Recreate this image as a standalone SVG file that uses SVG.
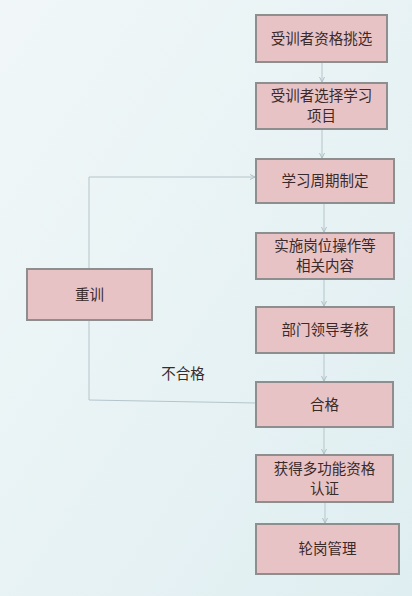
<svg xmlns="http://www.w3.org/2000/svg" width="412" height="596" viewBox="0 0 412 596">
<defs>
<linearGradient id="bg" x1="0" y1="0" x2="1" y2="1">
<stop offset="0" stop-color="#f1f7f8"/>
<stop offset="1" stop-color="#dfeef1"/>
</linearGradient>
<marker id="ah" markerWidth="6" markerHeight="6" refX="5" refY="3" orient="auto" markerUnits="userSpaceOnUse">
<path d="M0,0.5 L5,3 L0,5.5" fill="none" stroke="#aebfc4" stroke-width="1"/>
</marker>
<style>
.box{fill:#e8c3c6;stroke:#8e8e8e;stroke-width:2}
.t{font-family:"Noto Sans CJK SC","Noto Sans",sans-serif;font-size:14.5px;fill:#3a2a2a;text-anchor:middle}
.c{fill:none;stroke:#b4c5ca;stroke-width:1}
</style>
</defs>
<rect width="412" height="596" fill="url(#bg)"/>
<g id="connectors">
<line class="c" x1="322" y1="62" x2="322" y2="82" marker-end="url(#ah)"/>
<line class="c" x1="322" y1="129" x2="322" y2="158" marker-end="url(#ah)"/>
<line class="c" x1="324" y1="203" x2="324" y2="232" marker-end="url(#ah)"/>
<line class="c" x1="324" y1="279" x2="324" y2="306" marker-end="url(#ah)"/>
<line class="c" x1="324" y1="353" x2="324" y2="381" marker-end="url(#ah)"/>
<line class="c" x1="324" y1="427" x2="324" y2="454" marker-end="url(#ah)"/>
<line class="c" x1="325" y1="502" x2="325" y2="523" marker-end="url(#ah)"/>
<polyline class="c" points="256,403 89,400 89,320"/>
<polyline class="c" points="89,269 89,177 255,177" marker-end="url(#ah)"/>
<text class="t" x="183" y="379">不合格</text>
</g>
<g id="n1"><rect class="box" x="256" y="15" width="131" height="47"/><text class="t" x="321.5" y="44">受训者资格挑选</text></g>
<g id="n2"><rect class="box" x="256" y="83" width="131" height="46"/><text class="t" x="321.5" y="101">受训者选择学习</text><text class="t" x="321.5" y="121">项目</text></g>
<g id="n3"><rect class="box" x="256" y="159" width="138" height="44"/><text class="t" x="325" y="186">学习周期制定</text></g>
<g id="n4"><rect class="box" x="256" y="233" width="138" height="46"/><text class="t" x="325" y="251">实施岗位操作等</text><text class="t" x="325" y="271">相关内容</text></g>
<g id="n5"><rect class="box" x="256" y="307" width="138" height="46"/><text class="t" x="325" y="335">部门领导考核</text></g>
<g id="n6"><rect class="box" x="256" y="382" width="137" height="45"/><text class="t" x="324.5" y="410">合格</text></g>
<g id="n7"><rect class="box" x="256" y="455" width="137" height="47"/><text class="t" x="324.5" y="474">获得多功能资格</text><text class="t" x="324.5" y="494">认证</text></g>
<g id="n8"><rect class="box" x="256" y="524" width="143" height="50"/><text class="t" x="327.5" y="554">轮岗管理</text></g>
<g id="n0"><rect class="box" x="27" y="269" width="125" height="51"/><text class="t" x="89.5" y="300">重训</text></g>
</svg>
